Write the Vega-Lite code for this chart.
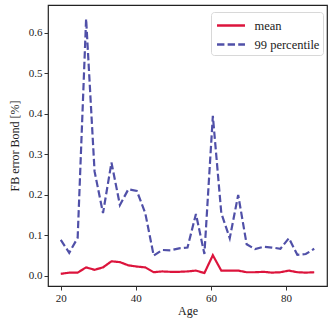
{
  "$schema": "https://vega.github.io/schema/vega-lite/v6.json",
  "autosize": "none",
  "padding": {"left": 48, "top": 5, "right": 3, "bottom": 34},
  "width": 279,
  "height": 281,
  "background": "white",
  "config": {
    "font": "Liberation Serif",
    "style": {"guide-label": {"font": "Liberation Serif"}, "guide-title": {"font": "Liberation Serif"}},
    "view": {"stroke": "#222222", "strokeWidth": 1.2},
    "axis": {"grid": false, "domain": false, "tickColor": "#333333", "tickSize": 4, "labelFont": "Liberation Serif", "titleFont": "Liberation Serif", "labelFontSize": 11, "titleFontSize": 12, "titleFontWeight": "normal", "labelColor": "#222222", "titleColor": "#222222"},
    "legend": {"labelFont": "Liberation Serif", "labelFontSize": 12, "labelColor": "#222222"}
  },
  "data": {"values": [
    {"age": 20, "mean": 0.005, "p99": 0.089},
    {"age": 22.25, "mean": 0.008, "p99": 0.057},
    {"age": 24.5, "mean": 0.008, "p99": 0.094},
    {"age": 26.75, "mean": 0.021, "p99": 0.635},
    {"age": 29, "mean": 0.015, "p99": 0.258},
    {"age": 31.25, "mean": 0.021, "p99": 0.155},
    {"age": 33.5, "mean": 0.036, "p99": 0.28},
    {"age": 35.75, "mean": 0.034, "p99": 0.175},
    {"age": 38, "mean": 0.026, "p99": 0.214},
    {"age": 40.25, "mean": 0.023, "p99": 0.21},
    {"age": 42.5, "mean": 0.021, "p99": 0.155},
    {"age": 44.75, "mean": 0.009, "p99": 0.05},
    {"age": 47, "mean": 0.011, "p99": 0.064},
    {"age": 49.25, "mean": 0.01, "p99": 0.063},
    {"age": 51.5, "mean": 0.01, "p99": 0.068},
    {"age": 53.75, "mean": 0.011, "p99": 0.07},
    {"age": 56, "mean": 0.013, "p99": 0.153},
    {"age": 58.25, "mean": 0.007, "p99": 0.054},
    {"age": 60.5, "mean": 0.051, "p99": 0.395},
    {"age": 62.75, "mean": 0.013, "p99": 0.155},
    {"age": 65, "mean": 0.013, "p99": 0.093},
    {"age": 67.25, "mean": 0.013, "p99": 0.2},
    {"age": 69.5, "mean": 0.009, "p99": 0.078},
    {"age": 71.75, "mean": 0.009, "p99": 0.066},
    {"age": 74, "mean": 0.01, "p99": 0.072},
    {"age": 76.25, "mean": 0.008, "p99": 0.07},
    {"age": 78.5, "mean": 0.009, "p99": 0.067},
    {"age": 80.75, "mean": 0.013, "p99": 0.093},
    {"age": 83, "mean": 0.009, "p99": 0.052},
    {"age": 85.25, "mean": 0.008, "p99": 0.054},
    {"age": 87.5, "mean": 0.009, "p99": 0.067}
  ]},
  "transform": [
    {"fold": ["mean", "p99"], "as": ["key", "value"]},
    {"calculate": "datum.key === 'mean' ? 'mean' : '99 percentile'", "as": "series"}
  ],
  "mark": {"type": "line", "strokeWidth": 2.2, "clip": true},
  "encoding": {
    "x": {"field": "age", "type": "quantitative", "title": "Age", "scale": {"domain": [16.6, 90.9], "nice": false, "zero": false}, "axis": {"values": [20, 40, 60, 80], "titlePadding": 2}},
    "y": {"field": "value", "type": "quantitative", "title": "FB error Bond [%]", "scale": {"domain": [-0.025, 0.669], "nice": false, "zero": false}, "axis": {"values": [0, 0.1, 0.2, 0.3, 0.4, 0.5, 0.6], "format": ".1f", "titlePadding": 7}},
    "color": {"field": "series", "type": "nominal", "scale": {"domain": ["mean", "99 percentile"], "range": ["#DC143C", "#5050A8"]}, "legend": {"title": null, "orient": "none", "legendX": 163, "legendY": 7, "symbolType": "M-0.88,0H2.41", "symbolSize": 289, "symbolStrokeWidth": 2.4, "labelOffset": 20, "labelFont": "Liberation Serif", "labelFontSize": 12.5, "labelColor": "#222222", "strokeColor": "#d8d8d8", "cornerRadius": 3, "padding": 3.5, "rowPadding": 2, "fillColor": "white"}},
    "strokeDash": {"field": "series", "type": "nominal", "scale": {"domain": ["mean", "99 percentile"], "range": [[1, 0], [7.4, 3.2]]}, "legend": null}
  }
}
